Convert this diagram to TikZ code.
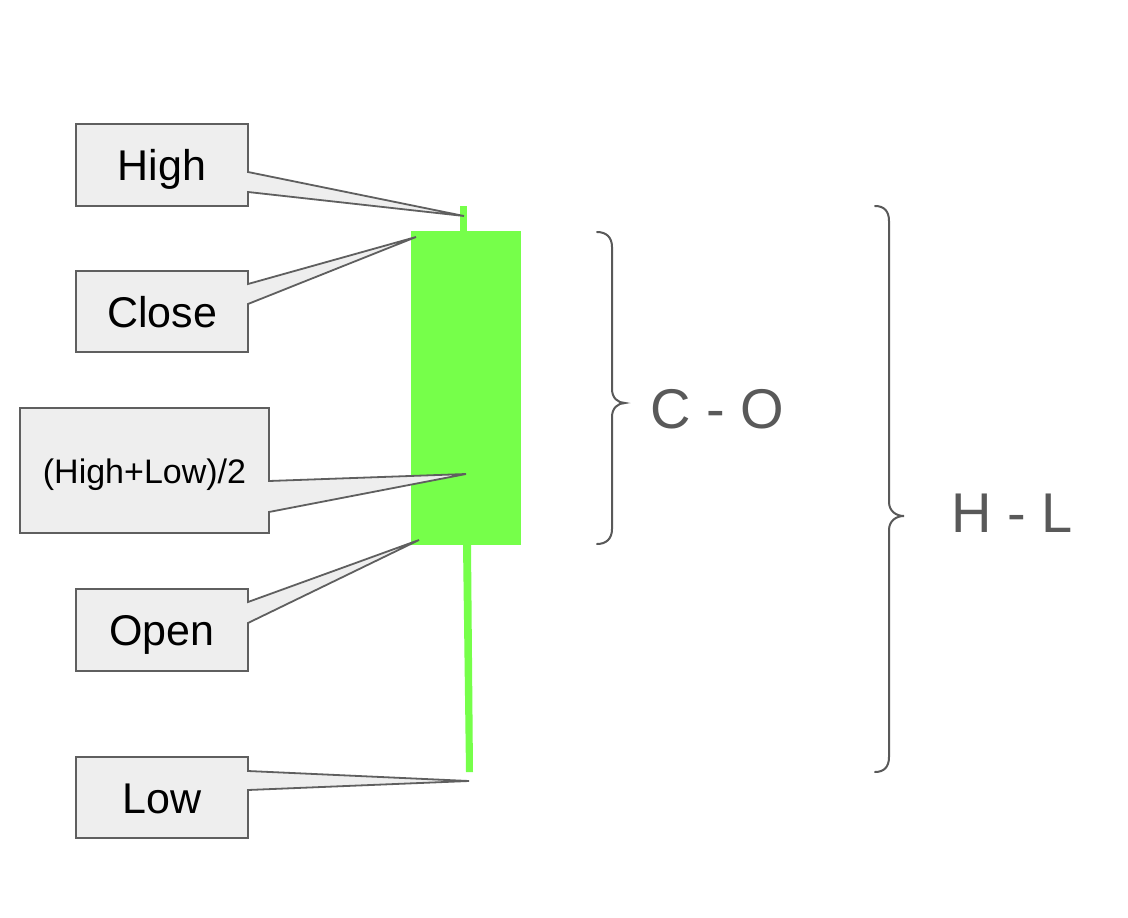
\documentclass[tikz,border=0pt]{standalone}
\usepackage{fontspec}
\setmainfont{Liberation Sans}
\usetikzlibrary{calc}
\definecolor{candle}{RGB}{118,255,74}
\definecolor{boxfill}{RGB}{238,238,238}
\definecolor{edgegray}{RGB}{95,95,95}
\definecolor{labelgray}{RGB}{89,89,89}
\tikzset{
  lblbox/.style={inner sep=0pt,outer sep=0pt,minimum width=172pt,minimum height=82pt,
    font=\fontsize{43}{50}\selectfont,text height=31pt,text depth=0pt,text=black},
  callout/.style={fill=boxfill,draw=edgegray,line width=1.8pt,line join=miter},
  bracestyle/.style={draw=labelgray,line width=2pt,line cap=round},
  rangelabel/.style={inner sep=0pt,anchor=base west,text=labelgray,font=\fontsize{56}{64}\selectfont}
}
\begin{document}
\begin{tikzpicture}[x=1pt,y=-1pt]
\useasboundingbox[fill=white] (0,0) rectangle (1128,918);

% candle
\fill[candle] (460,206) rectangle (467,232);
\fill[candle] (411,231) rectangle (521,545);
\fill[candle] (463,544) -- (471,544) -- (473,772) -- (466,772) -- cycle;

% callout tips
\coordinate (tHi) at (464,216);
\coordinate (tCl) at (416,237);
\coordinate (tMid) at (466,474);
\coordinate (tOp) at (419,540);
\coordinate (tLo) at (469,781);

% label boxes
\node[lblbox] (hi) at (162,165) {};
\node[lblbox,minimum height=81pt] (cl) at (162,311.5) {};
\node[lblbox,minimum width=249pt,minimum height=125pt] (mid) at (144.5,470.5) {};
\node[lblbox] (op) at (162,630) {};
\node[lblbox,minimum height=81pt] (lo) at (162,797.5) {};

% callout outlines
\path[callout] (hi.north west) -- (hi.north east) -- ($(hi.north east)+(0,48)$) -- (tHi)
  -- ($(hi.north east)+(0,68)$) -- (hi.south east) -- (hi.south west) -- cycle;
\path[callout] (cl.north west) -- (cl.north east) -- ($(cl.north east)+(0,13)$) -- (tCl)
  -- ($(cl.north east)+(0,33)$) -- (cl.south east) -- (cl.south west) -- cycle;
\path[callout] (mid.north west) -- (mid.north east) -- ($(mid.north east)+(0,73)$) -- (tMid)
  -- ($(mid.north east)+(0,104)$) -- (mid.south east) -- (mid.south west) -- cycle;
\path[callout] (op.north west) -- (op.north east) -- ($(op.north east)+(0,13)$) -- (tOp)
  -- ($(op.north east)+(0,34)$) -- (op.south east) -- (op.south west) -- cycle;
\path[callout] (lo.north west) -- (lo.north east) -- ($(lo.north east)+(0,14)$) -- (tLo)
  -- ($(lo.north east)+(0,33)$) -- (lo.south east) -- (lo.south west) -- cycle;

% texts
\node[lblbox] (hiT) at (hi) {High};
\node[lblbox,minimum height=81pt] (clT) at (cl) {Close};
\node[lblbox,minimum width=249pt,minimum height=125pt,font=\fontsize{34}{40}\selectfont,text height=25.6pt] (midT) at (mid) {(High+Low)/2};
\node[lblbox] (opT) at (op) {Open};
\node[lblbox,minimum height=81pt] (loT) at (lo) {Low};

% braces
\draw[bracestyle] (597,232) .. controls (606,232) and (612,237) .. (612,247) -- (612,389)
  .. controls (612,398) and (618,403) .. (625,403)
  .. controls (618,403) and (612,408) .. (612,417) -- (612,529)
  .. controls (612,539) and (606,544) .. (597,544);
\draw[bracestyle] (875,206) .. controls (884,206) and (889,211) .. (889,221) -- (889,502)
  .. controls (889,511) and (896,516) .. (904,516)
  .. controls (896,516) and (889,521) .. (889,530) -- (889,757)
  .. controls (889,767) and (884,772) .. (875,772);

\node[rangelabel] (co) at (650,428) {C - O};
\node[rangelabel] (hl) at (951,532) {H - L};
\end{tikzpicture}
\end{document}
